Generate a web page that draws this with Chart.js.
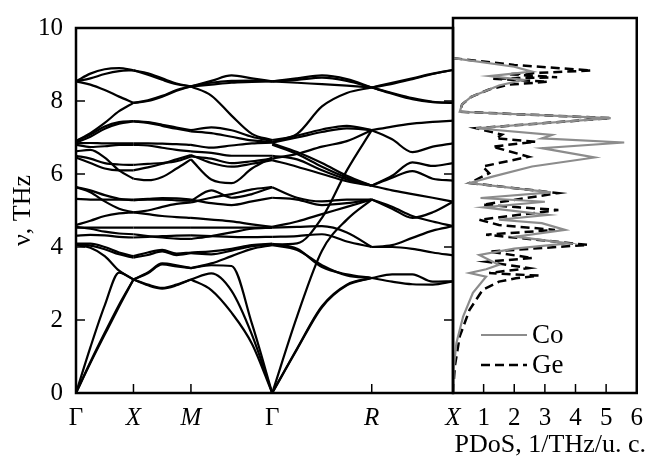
<!DOCTYPE html>
<html>
<head>
<meta charset="utf-8">
<script src="https://cdn.jsdelivr.net/npm/chart.js@4"></script>
<style>
  html, body { margin: 0; padding: 0; background: #fff; }
  #wrap { position: relative; width: 653px; height: 457px; }
  canvas { position: absolute; left: 0; top: 0; }
</style>
</head>
<body>
<div id="wrap">
  <canvas id="bands" width="653" height="457"></canvas>
  <canvas id="dos" width="653" height="457"></canvas>
</div>
<script>
// high-symmetry points along the path
const symPos = [0, 1, 2, 3.414, 5.146, 6.56];
const symLabels = ['Γ', 'X', 'M', 'Γ', 'R', 'X'];
const freqTicks = [0, 2, 4, 6, 8, 10];

// k-samples per segment
const kGX = [0, 0.25, 0.5, 0.75, 1];
const kXM = [1, 1.25, 1.5, 1.75, 2];
const kMG = [2, 2.354, 2.707, 3.061, 3.414];
const kGR = [3.414, 3.847, 4.28, 4.713, 5.146];
const kRX = [5.146, 5.5, 5.853, 6.207, 6.56];

// frequencies (THz) of each branch at those samples
const bandsGX = [
  [8.54, 8.75, 8.87, 8.9, 8.84],
  [8.54, 8.62, 8.74, 8.82, 8.84],
  [8.54, 8.45, 8.3, 8.12, 7.95],
  [6.9, 7.12, 7.4, 7.72, 7.95],
  [6.9, 7.08, 7.3, 7.42, 7.45],
  [6.86, 7.02, 7.24, 7.38, 7.44],
  [6.84, 6.85, 6.84, 6.84, 6.84],
  [6.8, 6.74, 6.76, 6.8, 6.8],
  [6.62, 6.66, 6.45, 6.1, 5.87],
  [6.5, 6.42, 6.3, 6.26, 6.25],
  [6.45, 6.3, 6.15, 6.1, 6.1],
  [5.64, 5.5, 5.25, 5.05, 4.95],
  [5.64, 5.55, 5.42, 5.32, 5.28],
  [5.32, 5.3, 5.3, 5.3, 5.3],
  [4.6, 4.72, 4.85, 4.92, 4.95],
  [4.55, 4.5, 4.42, 4.37, 4.35],
  [4.53, 4.53, 4.53, 4.53, 4.53],
  [4.31, 4.33, 4.32, 4.28, 4.26],
  [4.09, 4.09, 4.0, 3.85, 3.75],
  [4.07, 4.04, 3.94, 3.8, 3.71],
  [4.05, 3.98, 3.75, 3.35, 3.11],
  [0, 1.25, 2.4, 3.3, 3.11],
  [0, 0.82, 1.6, 2.37, 3.11],
  [0, 0.85, 1.65, 2.42, 3.11]
];
const bandsXM = [
  [8.84, 8.76, 8.62, 8.48, 8.4],
  [8.84, 8.72, 8.58, 8.46, 8.4],
  [7.95, 8.0, 8.12, 8.28, 8.4],
  [7.95, 8.02, 8.14, 8.3, 8.4],
  [7.45, 7.42, 7.35, 7.27, 7.2],
  [7.44, 7.4, 7.32, 7.24, 7.17],
  [6.84, 6.84, 6.83, 6.82, 6.8],
  [6.8, 6.78, 6.72, 6.66, 6.62],
  [5.87, 5.83, 5.92, 6.15, 6.4],
  [6.25, 6.28, 6.3, 6.35, 6.48],
  [6.1, 6.18, 6.28, 6.4, 6.52],
  [4.95, 5.0, 5.1, 5.18, 5.22],
  [5.28, 5.3, 5.3, 5.28, 5.26],
  [5.3, 5.32, 5.34, 5.33, 5.3],
  [4.95, 4.9, 4.85, 4.82, 4.8],
  [4.35, 4.3, 4.26, 4.23, 4.22],
  [4.53, 4.53, 4.53, 4.53, 4.53],
  [4.26, 4.28, 4.3, 4.31, 4.32],
  [3.75, 3.85, 3.92, 3.82, 3.85],
  [3.71, 3.78, 3.88, 3.78, 3.83],
  [3.11, 3.3, 3.55, 3.5, 3.42],
  [3.11, 2.95, 2.86, 2.95, 3.11],
  [3.11, 2.97, 2.88, 2.97, 3.11],
  [3.11, 3.28, 3.52, 3.47, 3.42]
];
const bandsMG = [
  [8.4, 8.55, 8.7, 8.62, 8.54],
  [8.4, 8.45, 8.5, 8.52, 8.54],
  [8.4, 8.15, 7.6, 7.1, 6.93],
  [8.4, 8.5, 8.55, 8.56, 8.54],
  [7.2, 7.28, 7.2, 7.02, 6.9],
  [7.17, 7.12, 7.02, 6.92, 6.88],
  [6.8, 6.72, 6.78, 6.84, 6.86],
  [6.62, 6.58, 6.5, 6.5, 6.5],
  [6.4, 5.85, 5.75, 6.15, 6.45],
  [6.48, 6.42, 6.3, 6.35, 6.42],
  [6.52, 6.3, 6.2, 6.28, 6.38],
  [5.22, 5.35, 5.45, 5.58, 5.64],
  [5.26, 5.55, 5.35, 5.45, 5.64],
  [5.3, 5.2, 5.15, 5.25, 5.35],
  [4.8, 4.75, 4.7, 4.62, 4.55],
  [4.22, 4.3, 4.4, 4.5, 4.53],
  [4.53, 4.53, 4.53, 4.53, 4.53],
  [4.32, 4.3, 4.28, 4.27, 4.28],
  [3.85, 3.88, 3.95, 4.05, 4.09],
  [3.83, 3.8, 3.9, 4.02, 4.07],
  [3.42, 3.55, 3.75, 3.95, 4.05],
  [3.42, 3.5, 3.48, 1.9, 0],
  [3.11, 3.28, 2.8, 1.6, 0],
  [3.11, 2.82, 2.2, 1.35, 0]
];
const bandsGR = [
  [8.54, 8.62, 8.7, 8.6, 8.37],
  [8.54, 8.58, 8.64, 8.55, 8.37],
  [8.54, 8.5, 8.46, 8.42, 8.37],
  [6.93, 7.1, 7.85, 8.22, 8.37],
  [6.88, 7.05, 7.22, 7.32, 7.2],
  [6.86, 7.0, 7.15, 7.25, 7.2],
  [6.84, 6.6, 6.3, 5.95, 5.68],
  [6.8, 6.55, 6.2, 5.9, 5.68],
  [6.5, 6.4, 6.1, 5.85, 5.68],
  [6.42, 6.55, 6.75, 6.9, 7.2],
  [6.38, 6.2, 6.0, 5.8, 5.68],
  [5.64, 5.35, 5.25, 5.3, 5.3],
  [5.35, 5.3, 5.15, 5.2, 5.3],
  [4.55, 4.7, 4.9, 5.1, 5.3],
  [4.53, 4.55, 4.57, 4.4, 4.0],
  [4.28, 4.3, 4.35, 4.15, 4.0],
  [4.09, 3.95, 3.45, 3.25, 3.15],
  [4.07, 4.1, 4.8, 6.1, 7.2],
  [4.05, 3.92, 3.5, 3.22, 3.15],
  [0, 2.1, 3.9, 4.75, 5.3],
  [0, 1.2, 2.35, 2.95, 3.15],
  [0, 1.22, 2.38, 2.97, 3.15]
];
const bandsRX = [
  [8.37, 8.5, 8.62, 8.75, 8.85],
  [8.37, 8.47, 8.6, 8.74, 8.85],
  [8.37, 8.22, 8.08, 7.98, 7.95],
  [8.37, 8.2, 8.05, 7.97, 7.95],
  [7.2, 7.3, 7.38, 7.43, 7.46],
  [7.2, 6.95, 6.6, 6.75, 6.84],
  [5.68, 5.95, 6.32, 6.22, 6.3],
  [5.68, 5.9, 6.08, 5.87, 5.82],
  [5.68, 5.55, 5.45, 5.35, 5.24],
  [5.3, 5.05, 4.8, 4.95, 5.24],
  [5.3, 5.1, 4.85, 4.7, 4.57],
  [4.0, 4.05, 4.25, 4.45, 4.57],
  [4.0, 4.0, 3.95, 3.85, 3.77],
  [3.15, 3.25, 3.25, 3.05, 3.06],
  [3.15, 3.05, 2.98, 2.97, 3.06]
];

// partial phonon DOS (1/THz/u.c.) versus frequency (THz)
const coDos = [0, 0.02, 0.11, 0.33, 0.65, 1.08, 0.54, 1.08, 1.5, 0.86, 2.0, 3.77, 2.05, 3.66, 2.9, 1.5, 3.1, 1.0, 3.0, 0.9, 3.2, 0.54,
  1.29, 2.58, 4.62, 2.9, 5.59, 2.9, 3.23, 0.75, 5.15, 0.22, 0.3, 0.6, 1.2, 1.5, 2.3, 1.2, 2.58, 2.0, 0];
const coFreq = [0, 0.62, 1.33, 2.04, 2.67, 3.1, 3.2, 3.3, 3.42, 3.68, 3.85, 3.99, 4.17, 4.35, 4.53, 4.62, 4.75, 4.95, 5.1, 5.2, 5.35, 5.6,
  5.77, 6.04, 6.28, 6.53, 6.68, 6.79, 6.88, 7.06, 7.33, 7.5, 7.7, 7.9, 8.1, 8.2, 8.35, 8.45, 8.57, 8.7, 8.93];
const geDos = [0, 0.06, 0.22, 0.54, 0.97, 1.5, 2.05, 2.8, 1.18, 2.47, 1.1, 2.6, 1.18, 4.41, 1.08, 3.33, 1.5, 0.86, 3.44, 0.97, 3.44, 0.54,
  1.18, 0.97, 2.47, 1.29, 2.7, 1.4, 1.6, 0.75, 5.15, 0.22, 0.3, 0.6, 1.2, 1.8, 3.1, 1.3, 3.4, 1.8, 4.52, 2.0, 0];
const geFreq = [0, 0.71, 1.51, 2.22, 2.75, 2.97, 3.06, 3.13, 3.2, 3.33, 3.5, 3.6, 3.77, 3.95, 4.22, 4.35, 4.48, 4.62, 4.88, 5.02, 5.33, 5.6,
  5.86, 6.04, 6.3, 6.57, 6.7, 6.79, 6.89, 7.06, 7.33, 7.5, 7.7, 7.9, 8.1, 8.22, 8.3, 8.38, 8.42, 8.5, 8.6, 8.75, 8.93];
const dosTicks = [0, 1, 2, 3, 4, 5, 6];

const serif = '"Liberation Serif", "Times New Roman", serif';

function segDatasets(ks, bands) {
  return bands.map(b => ({
    data: ks.map((k, i) => ({ x: k, y: b[i] })),
    showLine: true,
    borderColor: '#000',
    borderWidth: 2.2,
    pointRadius: 0,
    cubicInterpolationMode: 'monotone'
  }));
}

const bandSets = [].concat(
  segDatasets(kGX, bandsGX),
  segDatasets(kXM, bandsXM),
  segDatasets(kMG, bandsMG),
  segDatasets(kGR, bandsGR),
  segDatasets(kRX, bandsRX)
);

// frame and inward tick marks
const frame = {
  id: 'frame',
  afterDraw(chart, args, opts) {
    const { ctx, chartArea: a, scales } = chart;
    ctx.save();
    ctx.strokeStyle = '#000';
    ctx.lineWidth = 1.5;
    (opts.xTicks || []).forEach(v => {
      const px = scales.x.getPixelForValue(v);
      ctx.beginPath(); ctx.moveTo(px, a.bottom); ctx.lineTo(px, a.bottom - 9); ctx.stroke();
    });
    (opts.yTicks || []).forEach(v => {
      const py = scales.y.getPixelForValue(v);
      if (opts.left) { ctx.beginPath(); ctx.moveTo(a.left, py); ctx.lineTo(a.left + 9, py); ctx.stroke(); }
      if (opts.right) { ctx.beginPath(); ctx.moveTo(a.right, py); ctx.lineTo(a.right - 9, py); ctx.stroke(); }
    });
    ctx.lineWidth = 2.5;
    ctx.strokeRect(a.left, a.top, a.right - a.left, a.bottom - a.top);
    ctx.restore();
  }
};

function draw() {
  new Chart(document.getElementById('bands'), {
    type: 'scatter',
    data: { datasets: bandSets },
    options: {
      responsive: false,
      animation: false,
      events: [],
      layout: { padding: { left: 0, right: 200, top: 18, bottom: 0 } },
      plugins: {
        legend: { display: false },
        tooltip: { enabled: false },
        frame: { xTicks: [1, 2, 5.146], yTicks: [2, 4, 6, 8], left: true, right: true }
      },
      scales: {
        x: {
          type: 'linear', min: 0, max: 6.56,
          afterFit: s => { s.height = 64; },
          afterBuildTicks: s => { s.ticks = symPos.map(v => ({ value: v })); },
          grid: { display: false, drawTicks: false },
          border: { display: false },
          ticks: {
            padding: 10,
            color: '#000',
            maxRotation: 0,
            autoSkip: false,
            font: c => ({ family: serif, size: 25, style: (c.index === 0 || c.index === 3) ? 'normal' : 'italic' }),
            callback: (v, i) => symLabels[i]
          }
        },
        y: {
          min: 0, max: 10,
          afterFit: s => { s.width = 76; },
          afterBuildTicks: s => { s.ticks = freqTicks.map(v => ({ value: v })); },
          grid: { display: false, drawTicks: false },
          border: { display: false },
          title: { display: true, text: 'ν, THz', color: '#000', font: { family: serif, size: 26 }, padding: { top: 8, bottom: 0 } },
          ticks: { padding: 13, color: '#000', font: { family: serif, size: 25 } }
        }
      }
    },
    plugins: [frame]
  });

  const legendBox = {
    id: 'legendBox',
    afterDraw(chart) {
      const ctx = chart.ctx;
      ctx.save();
      ctx.font = '27px ' + serif;
      ctx.textBaseline = 'middle';
      ctx.fillStyle = '#000';
      ctx.lineWidth = 2.2;
      ctx.strokeStyle = '#8c8c8c';
      ctx.beginPath(); ctx.moveTo(481, 335); ctx.lineTo(527, 335); ctx.stroke();
      ctx.fillText('Co', 532, 336);
      ctx.strokeStyle = '#000';
      ctx.lineWidth = 2.5;
      ctx.setLineDash([9, 5]);
      ctx.beginPath(); ctx.moveTo(481, 365); ctx.lineTo(527, 365); ctx.stroke();
      ctx.setLineDash([]);
      ctx.fillText('Ge', 532, 366);
      ctx.font = '26px ' + serif;
      ctx.textAlign = 'right';
      ctx.fillText('PDoS, 1/THz/u. c.', 646, 445);
      ctx.restore();
    }
  };

  new Chart(document.getElementById('dos'), {
    type: 'scatter',
    data: {
      datasets: [
        {
          label: 'Co',
          data: coDos.map((d, i) => ({ x: d, y: coFreq[i] })),
          showLine: true, borderColor: '#8c8c8c', borderWidth: 2.2, pointRadius: 0, tension: 0
        },
        {
          label: 'Ge',
          data: geDos.map((d, i) => ({ x: d, y: geFreq[i] })),
          showLine: true, borderColor: '#000', borderWidth: 2.5, borderDash: [9, 5], pointRadius: 0, tension: 0
        }
      ]
    },
    options: {
      responsive: false,
      animation: false,
      events: [],
      layout: { padding: { left: 453, right: 14, top: 18, bottom: 0 } },
      plugins: {
        legend: { display: false },
        tooltip: { enabled: false },
        frame: { xTicks: [1, 2, 3, 4, 5], yTicks: [] }
      },
      scales: {
        x: {
          type: 'linear', min: 0, max: 6,
          afterFit: s => { s.height = 64; },
          afterBuildTicks: s => { s.ticks = dosTicks.map(v => ({ value: v })); },
          grid: { display: false, drawTicks: false },
          border: { display: false },
          ticks: {
            padding: 10, color: '#000', maxRotation: 0, autoSkip: false,
            font: { family: serif, size: 25 },
            callback: v => (v === 0 ? '' : String(v))
          }
        },
        y: { display: false, min: 0, max: 10 }
      }
    },
    plugins: [frame, legendBox]
  });
}

if (document.fonts && document.fonts.load) {
  Promise.all([
    document.fonts.load('25px "Liberation Serif"'),
    document.fonts.load('italic 25px "Liberation Serif"')
  ]).then(draw, draw);
} else {
  draw();
}
</script>
</body>
</html>
